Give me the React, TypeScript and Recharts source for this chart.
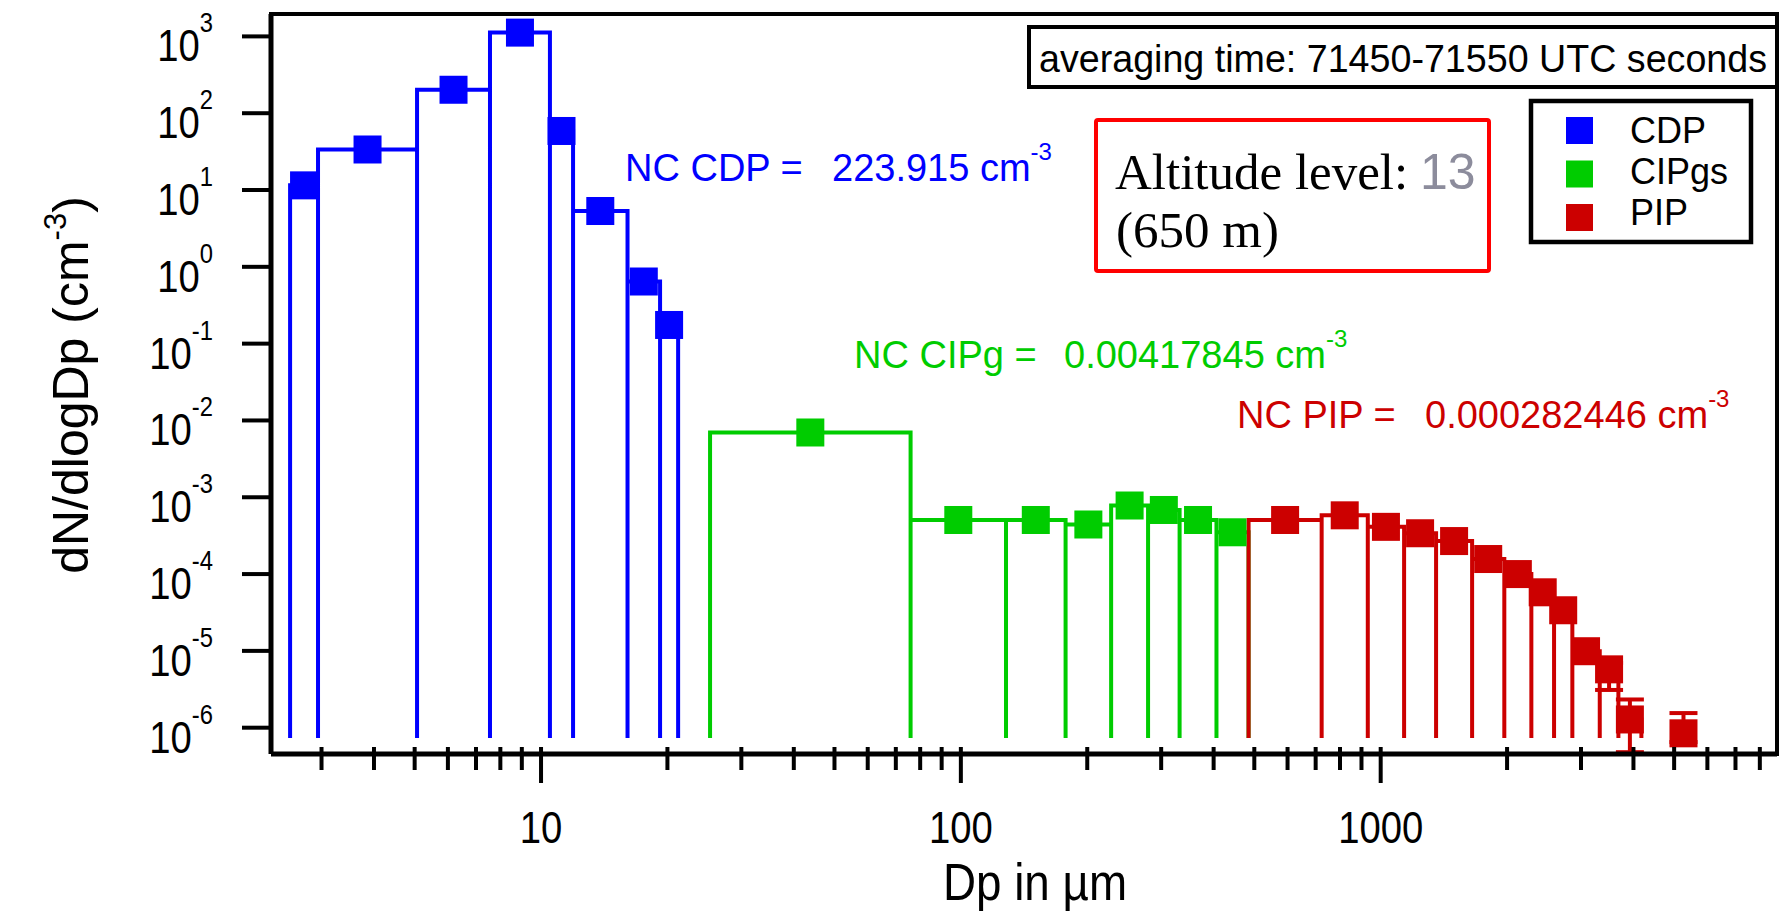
import React from 'react';
import { ScatterChart, Scatter, XAxis, YAxis, ErrorBar } from 'recharts';

const SANS = "'Liberation Sans', Arial, Helvetica, sans-serif";
const SERIF = "'Liberation Serif', 'Times New Roman', serif";

const CDP = '#0000ff';
const CIP = '#00cc00';
const PIP = '#cc0000';

// CDP size bins (µm) and dN/dlogDp (cm-3)
const cdpEdges = [2.525, 2.943, 5.066, 7.558, 10.5, 11.92, 16.07, 19.21, 21.21];
const cdpValues = [11.5, 33.7, 202, 1120, 58.7, 5.33, 0.644, 0.175];

// CIP greyscale bins
const cipEdges = [25.27, 75.9, 128.1, 177.6, 228, 279.2, 331.9, 406.3, 484.5];
const cipValues = [6.97e-3, 5.06e-4, 5.06e-4, 4.42e-4, 7.81e-4, 6.83e-4, 5.06e-4, 3.5e-4];

// PIP bins
const pipEdges = [484.5, 723.4, 931.7, 1137, 1355, 1651, 1970, 2285, 2588, 2861, 3325, 3683, 4178];
const pipValues = [5.06e-4, 5.82e-4, 4.12e-4, 3.4e-4, 2.69e-4, 1.57e-4, 1.0e-4, 5.79e-5, 3.38e-5, 9.9e-6, 5.75e-6, 1.28e-6];
// error bounds, only where they stick out of the markers
const pipErrLow = [null, null, null, null, null, null, null, null, null, null, 3.1e-6, 4.8e-7];
const pipErrHigh = [null, null, null, null, null, null, null, null, null, null, 7.0e-6, 2.33e-6];

// single PIP count past the last filled bin
const pipTailDp = [5263];
const pipTailValues = [8.45e-7];
const pipTailLow = [6.5e-7];
const pipTailHigh = [1.55e-6];

// bottom of the histogram bars
const baseline = 7.35e-7;

const xTicks = [3, 4, 5, 6, 7, 8, 9, 10, 20, 30, 40, 50, 60, 70, 80, 90, 100, 200, 300, 400, 500, 600, 700, 800, 900, 1000, 2000, 3000, 4000, 5000, 6000, 7000, 8000];
const xMajor = [10, 100, 1000];
const yTicks = [1e3, 1e2, 1e1, 1, 1e-1, 1e-2, 1e-3, 1e-4, 1e-5, 1e-6];

const legendItems = [
  { name: 'CDP', color: CDP },
  { name: 'CIPgs', color: CIP },
  { name: 'PIP', color: PIP },
];

const W = 1783;
const H = 911;

type Pt = { x: number; y: number; err?: number[] };

// open-bottom bar outline: every bin edge drops to the baseline
const outline = (edges: number[], values: number[]): Pt[] => {
  const pts: Pt[] = [{ x: edges[0], y: baseline }];
  values.forEach((v, i) => {
    pts.push({ x: edges[i], y: v }, { x: edges[i + 1], y: v }, { x: edges[i + 1], y: baseline });
  });
  return pts;
};

const binMarks = (edges: number[], values: number[], lo?: (number | null)[], hi?: (number | null)[]): Pt[] =>
  values.map((v, i) => {
    const p: Pt = { x: Math.sqrt(edges[i] * edges[i + 1]), y: v };
    const l = lo ? lo[i] : null;
    const h = hi ? hi[i] : null;
    if (l != null && h != null) p.err = [v - l, h - v];
    return p;
  });

const tailMarks: Pt[] = pipTailDp.map((d, i) => ({
  x: d,
  y: pipTailValues[i],
  err: [pipTailValues[i] - pipTailLow[i], pipTailHigh[i] - pipTailValues[i]],
}));

const square = (color: string) => (p: any) => (
  <rect x={p.cx - 14} y={p.cy - 14} width={28} height={28} fill={color} />
);
const noDot = () => <g />;

// tick text is drawn a little narrow
const SQUEEZE = 0.85;

const XTick = (props: any) => {
  const { x, y, payload } = props;
  const major = xMajor.includes(payload.value);
  return (
    <g>
      <line x1={x} x2={x} y1={y - 7} y2={y + (major ? 29 : 16)} stroke="#000" strokeWidth={4} />
      {major && (
        <text
          transform={`translate(${x},${y + 89}) scale(${SQUEEZE},1)`}
          textAnchor="middle"
          fontFamily={SANS}
          fontSize={45}
          fill="#000"
        >
          {payload.value}
        </text>
      )}
    </g>
  );
};

const YTick = (props: any) => {
  const { x, y, payload } = props;
  const exp = Math.round(Math.log10(payload.value));
  return (
    <text
      transform={`translate(${x},${y + 25}) scale(${SQUEEZE},1)`}
      textAnchor="end"
      fontFamily={SANS}
      fontSize={45}
      fill="#000"
    >
      10<tspan dy={-29} fontSize={28}>{exp}</tspan>
    </text>
  );
};

const NcLabel = ({ x, vx, y, name, value, color }: any) => (
  <g fontFamily={SANS} fontSize={38} fill={color}>
    <text x={x} y={y}>{name} =</text>
    <text x={vx} y={y}>
      {value} cm<tspan dy={-21} fontSize={24}>-3</tspan>
    </text>
  </g>
);

const Annotations = () => (
  <svg width={W} height={H} style={{ position: 'absolute', left: 0, top: 0, pointerEvents: 'none' }}>
    {/* frame */}
    <line x1={269} x2={1779} y1={14} y2={14} stroke="#000" strokeWidth={4} />
    <line x1={1777} x2={1777} y1={12} y2={756} stroke="#000" strokeWidth={4} />

    <rect x={1029} y={27} width={748} height={60} fill="#fff" stroke="#000" strokeWidth={4} />
    <text x={1403} y={72} textAnchor="middle" fontFamily={SANS} fontSize={38} textLength={728} lengthAdjust="spacingAndGlyphs" fill="#000">
      averaging time: 71450-71550 UTC seconds
    </text>

    <rect x={1531} y={101} width={220} height={141} fill="#fff" stroke="#000" strokeWidth={4.5} />
    {legendItems.map((it, i) => (
      <g key={it.name}>
        <rect x={1566} y={117 + i * 43.5} width={27} height={27} fill={it.color} />
        <text x={1630} y={143 + i * 41} fontFamily={SANS} fontSize={36} fill="#000">{it.name}</text>
      </g>
    ))}

    <rect x={1096} y={120} width={393} height={151} rx={2} fill="none" stroke="#ff0000" strokeWidth={4} />
    <text x={1115} y={189} fontFamily={SERIF} fontSize={51} fill="#000">Altitude level:</text>
    <text x={1420} y={189} fontFamily={SANS} fontSize={50} fill="#8c8c9c">13</text>
    <text x={1116} y={247} fontFamily={SERIF} fontSize={51} fill="#000">(650 m)</text>

    <NcLabel x={625} vx={832} y={181} name="NC CDP" value="223.915" color={CDP} />
    <NcLabel x={854} vx={1064} y={368} name="NC CIPg" value="0.00417845" color={CIP} />
    <NcLabel x={1237} vx={1425} y={428} name="NC PIP" value="0.000282446" color={PIP} />

    <text transform="translate(88,385) rotate(-90)" textAnchor="middle" fontFamily={SANS} fontSize={50} fill="#000">
      dN/dlogDp (cm<tspan dy={-22} fontSize={31}>-3</tspan><tspan dy={22}>)</tspan>
    </text>
    <text transform="translate(1035,900) scale(0.88,1)" textAnchor="middle" fontFamily={SANS} fontSize={52} fill="#000">
      Dp in µm
    </text>
  </svg>
);

export default function App() {
  return (
    <div style={{ position: 'absolute', left: 0, top: 0, width: W, height: H, background: '#fff' }}>
      <ScatterChart width={W} height={H} margin={{ top: 14, right: 6, bottom: 0, left: 0 }}>
        <XAxis
          type="number"
          dataKey="x"
          scale="log"
          domain={[2.274, 8790]}
          allowDataOverflow
          ticks={xTicks}
          interval={0}
          height={157}
          tickSize={0}
          tickMargin={0}
          tickLine={false}
          axisLine={{ stroke: '#000', strokeWidth: 5 }}
          tick={(p: any) => <XTick {...p} />}
        />
        <YAxis
          type="number"
          dataKey="y"
          scale="log"
          domain={[4.545e-7, 1957]}
          allowDataOverflow
          ticks={yTicks}
          interval={0}
          width={271}
          tickSize={29}
          tickMargin={29}
          tickLine={{ stroke: '#000', strokeWidth: 4 }}
          axisLine={{ stroke: '#000', strokeWidth: 5 }}
          tick={(p: any) => <YTick {...p} />}
        />

        <Scatter data={outline(cdpEdges, cdpValues)} fill={CDP} line={{ stroke: CDP, strokeWidth: 4 }} shape={noDot} isAnimationActive={false} />
        <Scatter data={outline(cipEdges, cipValues)} fill={CIP} line={{ stroke: CIP, strokeWidth: 4 }} shape={noDot} isAnimationActive={false} />
        <Scatter data={outline(pipEdges, pipValues)} fill={PIP} line={{ stroke: PIP, strokeWidth: 4 }} shape={noDot} isAnimationActive={false} />

        <Scatter data={binMarks(cdpEdges, cdpValues)} fill={CDP} shape={square(CDP)} isAnimationActive={false} />
        <Scatter data={binMarks(cipEdges, cipValues)} fill={CIP} shape={square(CIP)} isAnimationActive={false} />
        <Scatter data={binMarks(pipEdges, pipValues, pipErrLow, pipErrHigh)} fill={PIP} shape={square(PIP)} isAnimationActive={false}>
          <ErrorBar dataKey="err" direction="y" width={14} stroke={PIP} strokeWidth={4} />
        </Scatter>
        <Scatter data={tailMarks} fill={PIP} shape={square(PIP)} isAnimationActive={false}>
          <ErrorBar dataKey="err" direction="y" width={14} stroke={PIP} strokeWidth={4} />
        </Scatter>
      </ScatterChart>
      <Annotations />
    </div>
  );
}
